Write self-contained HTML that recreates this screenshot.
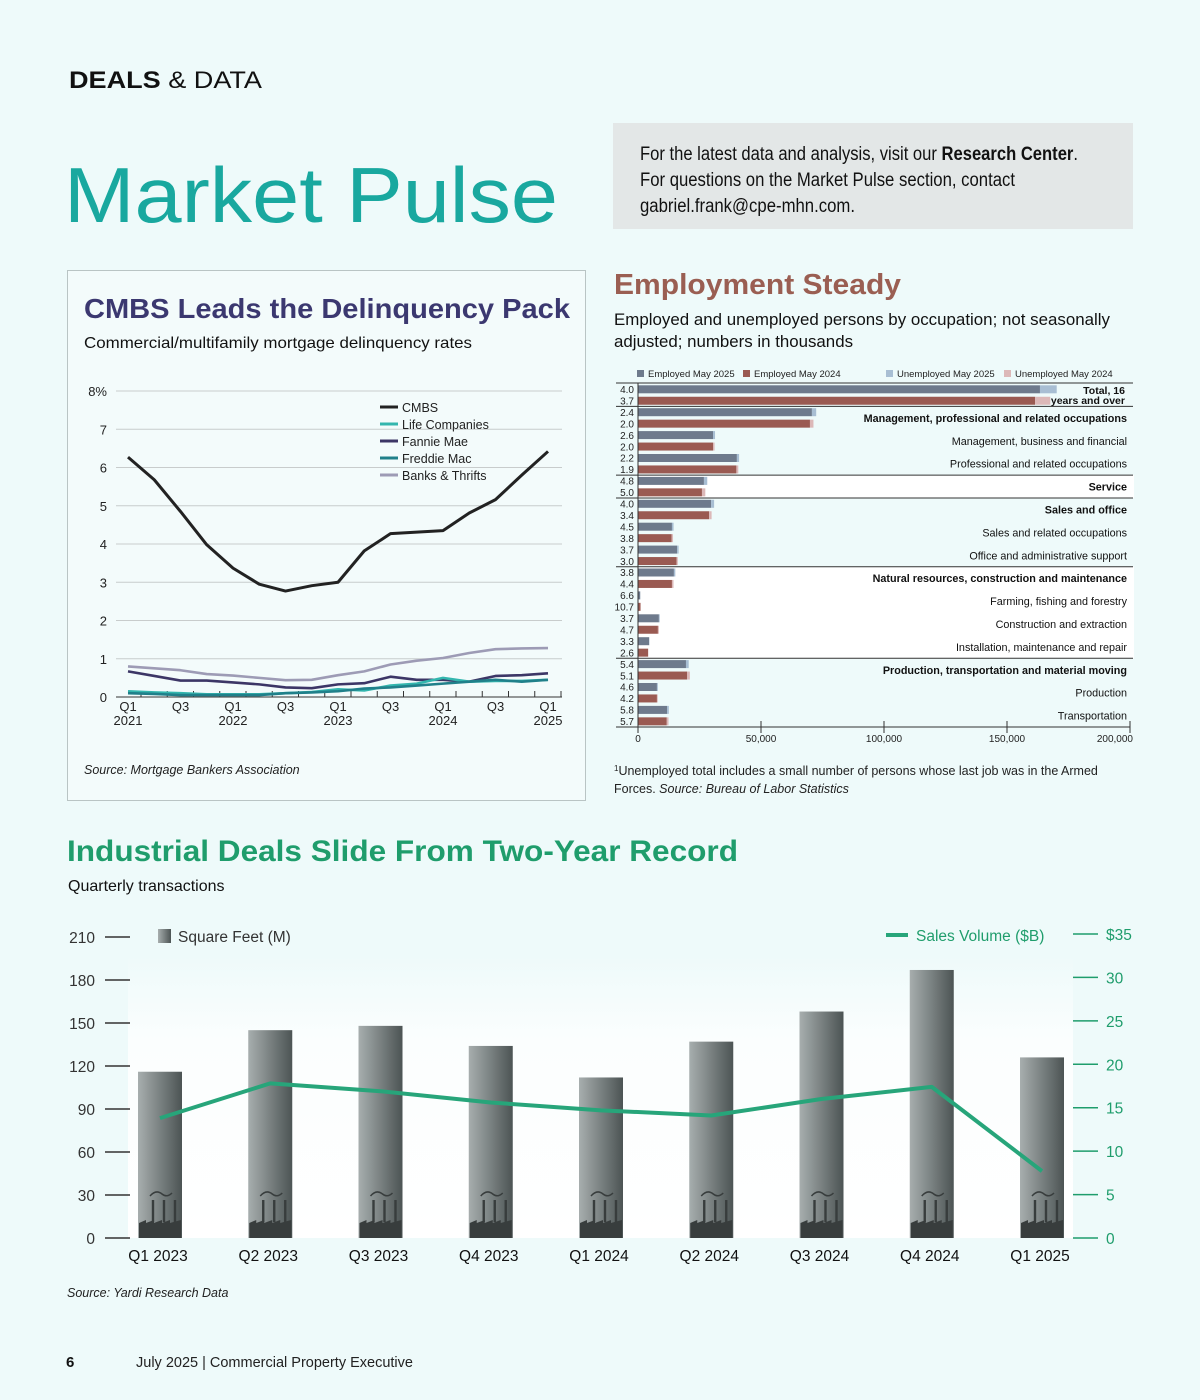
<!DOCTYPE html>
<html><head><meta charset="utf-8"><style>
body{margin:0;background:#eefafa;}
svg{display:block;font-family:"Liberation Sans",sans-serif;}
</style></head><body>
<svg id="pg" width="1200" height="1400" viewBox="0 0 1200 1400">
<defs>
<linearGradient id="barg" x1="0" x2="1" y1="0" y2="0"><stop offset="0" stop-color="#a7aeae"/><stop offset="1" stop-color="#4c5454"/></linearGradient>
<linearGradient id="plotbg" x1="0" x2="0" y1="0" y2="1"><stop offset="0" stop-color="#eefafa"/><stop offset="0.3" stop-color="#fbfefe"/><stop offset="1" stop-color="#ffffff"/></linearGradient>
</defs>
<rect width="1200" height="1400" fill="#eefafa"/>
<text x="69" y="88" font-size="24" fill="#111" textLength="193" lengthAdjust="spacingAndGlyphs"><tspan font-weight="bold">DEALS</tspan> &amp; DATA</text>
<text x="64" y="222" font-size="78" fill="#19a89f" textLength="494" lengthAdjust="spacingAndGlyphs">Market Pulse</text>
<rect x="613" y="123" width="520" height="106" fill="#e3e7e7"/>
<g font-size="19" fill="#111">
<text x="640" y="160" textLength="438" lengthAdjust="spacingAndGlyphs">For the latest data and analysis, visit our <tspan font-weight="bold">Research Center</tspan>.</text>
<text x="640" y="186" textLength="375" lengthAdjust="spacingAndGlyphs">For questions on the Market Pulse section, contact</text>
<text x="640" y="212" textLength="215" lengthAdjust="spacingAndGlyphs">gabriel.frank@cpe-mhn.com.</text>
</g>

<!-- CMBS panel -->
<rect x="67.5" y="270.5" width="518" height="530" fill="#f3fbfb" stroke="#b9c4c4"/>
<text x="84" y="318" font-size="28" font-weight="bold" fill="#3b3870" textLength="486" lengthAdjust="spacingAndGlyphs">CMBS Leads the Delinquency Pack</text>
<text x="84" y="348" font-size="16" fill="#111" textLength="388" lengthAdjust="spacingAndGlyphs">Commercial/multifamily mortgage delinquency rates</text>
<g id="cmbs"></g>
<text x="84" y="774" font-size="12.5" font-style="italic" fill="#222">Source: Mortgage Bankers Association</text>

<!-- Employment -->
<text x="614" y="294" font-size="29" font-weight="bold" fill="#9a5e52" textLength="287" lengthAdjust="spacingAndGlyphs">Employment Steady</text>
<text x="614" y="325" font-size="16.5" fill="#111" textLength="496" lengthAdjust="spacingAndGlyphs">Employed and unemployed persons by occupation; not seasonally</text>
<text x="614" y="347" font-size="16.5" fill="#111" textLength="239" lengthAdjust="spacingAndGlyphs">adjusted; numbers in thousands</text>
<g id="emp"></g>
<text x="614" y="775" font-size="12.5" fill="#222"><tspan font-size="8" dy="-4">1</tspan><tspan dy="4">Unemployed total includes a small number of persons whose last job was in the Armed</tspan></text>
<text x="614" y="793" font-size="12.5" fill="#222">Forces. <tspan font-style="italic">Source: Bureau of Labor Statistics</tspan></text>

<!-- Industrial -->
<text x="67" y="861" font-size="30" font-weight="bold" fill="#1f9d6c" textLength="671" lengthAdjust="spacingAndGlyphs">Industrial Deals Slide From Two-Year Record</text>
<text x="68" y="891" font-size="16" fill="#111">Quarterly transactions</text>
<rect x="128" y="955" width="945" height="283" fill="url(#plotbg)"/>
<g id="ind"></g>
<text x="67" y="1297" font-size="12.5" font-style="italic" fill="#222">Source: Yardi Research Data</text>

<text x="66" y="1367" font-size="15" font-weight="bold" fill="#111">6</text>
<text x="136" y="1367" font-size="14.5" fill="#222">July 2025  |  Commercial Property Executive</text>
</svg>
<script>
const NS='http://www.w3.org/2000/svg';
function mk(p,t,a,txt){const e=document.createElementNS(NS,t);for(const k in a)e.setAttribute(k,a[k]);if(txt!==undefined)e.textContent=txt;p.appendChild(e);return e;}

// ===== CMBS data =====
const cmbsTicks=[0,1,2,3,4,5,6,7,8];
const cmbsXLabels=[['Q1','2021'],['Q3',''],['Q1','2022'],['Q3',''],['Q1','2023'],['Q3',''],['Q1','2024'],['Q3',''],['Q1','2025']];
const cmbsSeriesNames=['Banks & Thrifts','Fannie Mae','Life Companies','Freddie Mac','CMBS'];
const cmbsVals=[6.27,5.68,4.85,3.98,3.37,2.95,2.77,2.91,3.0,3.82,4.27,4.31,4.35,4.81,5.16,5.8,6.42];
const banksVals=[0.8,0.75,0.7,0.6,0.56,0.5,0.44,0.45,0.57,0.67,0.85,0.95,1.02,1.15,1.25,1.27,1.28];
const fannieVals=[0.67,0.55,0.43,0.43,0.38,0.33,0.25,0.23,0.33,0.36,0.53,0.45,0.45,0.4,0.55,0.57,0.62];
const lifeVals=[0.15,0.12,0.1,0.07,0.07,0.07,0.1,0.13,0.2,0.17,0.3,0.35,0.5,0.4,0.42,0.42,0.45];
const freddieVals=[0.1,0.08,0.05,0.05,0.05,0.05,0.1,0.12,0.15,0.22,0.25,0.3,0.35,0.4,0.45,0.4,0.45];
(function(){
 const g=document.getElementById('cmbs');
 const y=v=>697-v*38.25, x=i=>128+i*26.25;
 cmbsTicks.forEach(t=>{
  if(t>0){const l=mk(g,'line',{x1:116,x2:562,y1:y(t),y2:y(t),stroke:'#c8cccc','stroke-width':1});
  }
  const tx=mk(g,'text',{x:107,y:y(t)+5,'font-size':13,'text-anchor':'end',fill:'#222'},t===8?'8%':String(t));
  
 });
 const ax=mk(g,'line',{x1:116,x2:562,y1:y(0),y2:y(0),stroke:'#333','stroke-width':1});
 
 for(let i=0;i<17;i++){const tk=mk(g,'line',{x1:x(i)+13,x2:x(i)+13,y1:y(0)-6,y2:y(0),stroke:'#333'});
  }
 cmbsXLabels.forEach((lb,k)=>{
  const t=mk(g,'text',{x:x(k*2),y:711,'font-size':13,'text-anchor':'middle',fill:'#222'},lb[0]);
  
  if(lb[1]){const t2=mk(g,'text',{x:x(k*2),y:725,'font-size':13,'text-anchor':'middle',fill:'#222'},lb[1]);
  }
 });
 const series=[[banksVals,'#9d9bb5'],[fannieVals,'#3c3666'],[lifeVals,'#33b6ae'],[freddieVals,'#20808a'],[cmbsVals,'#222']];
 series.forEach((s,k)=>{
  const p=mk(g,'polyline',{points:s[0].map((v,i)=>x(i)+','+y(v)).join(' '),fill:'none',stroke:s[1],'stroke-width':k===4?3:2.6,'stroke-linejoin':'round'});
  
  
 });
 const leg=[['CMBS','#222'],['Life Companies','#33b6ae'],['Fannie Mae','#3c3666'],['Freddie Mac','#20808a'],['Banks & Thrifts','#9d9bb5']];
 leg.forEach((l,i)=>{
  const ln=mk(g,'line',{x1:380,x2:398,y1:407+i*17,y2:407+i*17,stroke:l[1],'stroke-width':3});
  
  const t=mk(g,'text',{x:402,y:412+i*17,'font-size':12.5,fill:'#222'},l[0]);
  
 });
})();

// ===== Employment data =====
const empLabels=['Total, 16 years and over','Management, professional and related occupations','Management, business and financial','Professional and related occupations','Service','Sales and office','Sales and related occupations','Office and administrative support','Natural resources, construction and maintenance','Farming, fishing and forestry','Construction and extraction','Installation, maintenance and repair','Production, transportation and material moving','Production','Transportation'];
const empBold=[1,1,0,0,1,1,0,0,1,0,0,0,1,0,0];
const emp2025=[163400,70700,30500,40200,26800,29700,13800,15900,14600,900,8500,4500,19500,7700,11800];
const emp2024=[161400,69900,30500,40000,26000,28900,13700,15700,13800,1000,8100,4100,20000,7700,11700];
const rate2025=[4.0,2.4,2.6,2.2,4.8,4.0,4.5,3.7,3.8,6.6,3.7,3.3,5.4,4.6,5.8];
const rate2024=[3.7,2.0,2.0,1.9,5.0,3.4,3.8,3.0,4.4,10.7,4.7,2.6,5.1,4.2,5.7];
const empTicks=[0,50000,100000,150000,200000];
(function(){
 const g=document.getElementById('emp');
 const x=v=>638+v*492/200000, rowY=r=>383.5+r*11.45;
 const lg=[['Employed May 2025','#6e7a8c',637],['Employed May 2024','#9a5a52',743],['Unemployed May 2025','#a8bed3',886],['Unemployed May 2024','#dcb8b8',1004]];
 lg.forEach(l=>{const r=mk(g,'rect',{x:l[2],y:370,width:7,height:7,fill:l[1]});
  const t=mk(g,'text',{x:l[2]+11,y:377,'font-size':9.5,fill:'#222'},l[0]);});
 [[4,1],[8,4]].forEach(b=>{const r=mk(g,'rect',{x:638,y:rowY(b[0]*2),width:496,height:b[1]*2*11.45,fill:'#fff'});});
 const tl=mk(g,'line',{x1:616,x2:1133,y1:383,y2:383,stroke:'#333'});
 [1,4,5,8,12].forEach(i=>{const l=mk(g,'line',{x1:616,x2:1133,y1:rowY(i*2),y2:rowY(i*2),stroke:'#333'});});
 empLabels.forEach((lab,i)=>{
  [[emp2025,rate2025,'#6e7a8c','#a8bed3'],[emp2024,rate2024,'#9a5a52','#dcb8b8']].forEach((s,k)=>{
   const ry=rowY(i*2+k), e=s[0][i], r=s[1][i], u=e*r/(100-r);
   const b=mk(g,'rect',{x:x(0),y:ry+1.8,width:x(e)-x(0),height:8,fill:s[2]});
   
   const ub=mk(g,'rect',{x:x(e),y:ry+1.8,width:x(e+u)-x(e),height:8,fill:s[3]});
   
   const t=mk(g,'text',{x:634,y:ry+9.5,'font-size':10,'text-anchor':'end',fill:'#222'},r.toFixed(1));
   
  });
  if(i===0){
   [['Total, 16',394],['years and over',404]].forEach(a=>{const t=mk(g,'text',{x:1125,y:a[1],'font-size':10.5,'font-weight':'bold','text-anchor':'end',fill:'#111'},a[0]);});
  } else {
   const t=mk(g,'text',{x:1127,y:rowY(i*2)+15.5,'font-size':10.8,'font-weight':empBold[i]?'bold':'normal','text-anchor':'end',fill:'#111'},lab);
   
  }
 });
 const ax=mk(g,'line',{x1:616,x2:x(200000),y1:727,y2:727,stroke:'#333'});
 const vax=mk(g,'line',{x1:638,x2:638,y1:383,y2:727,stroke:'#333'});
 empTicks.forEach((t,i)=>{
  const tk=mk(g,'line',{x1:x(t),x2:x(t),y1:721,y2:733,stroke:'#333'});
  const tx=mk(g,'text',{x:i===4?1133:x(t),y:742,'font-size':10,'text-anchor':i===4?'end':'middle',fill:'#222'},t.toLocaleString('en-US'));
  
 });
})();

// ===== Industrial data =====
const indCats=['Q1 2023','Q2 2023','Q3 2023','Q4 2023','Q1 2024','Q2 2024','Q3 2024','Q4 2024','Q1 2025'];
const sqft=[116,145,148,134,112,137,158,187,126];
const salesVol=[13.8,17.8,16.9,15.6,14.7,14.1,16.0,17.4,7.7];
const leftTicks=[0,30,60,90,120,150,180,210];
const rightTicks=[0,5,10,15,20,25,30,35];
(function(){
 const g=document.getElementById('ind');
 const yl=v=>1238-v*301/210, yr=v=>1238-v*304/35, x=i=>160+i*110.25;
 leftTicks.forEach(t=>{
  const l=mk(g,'line',{x1:105,x2:130,y1:yl(t),y2:yl(t),stroke:'#333','stroke-width':1.5});
  const tx=mk(g,'text',{x:95,y:yl(t)+6,'font-size':15.5,'text-anchor':'end',fill:'#333'},String(t));
 });
 rightTicks.forEach(t=>{
  const l=mk(g,'line',{x1:1073,x2:1098,y1:yr(t),y2:yr(t),stroke:'#1f9d6c','stroke-width':1.5});
  const tx=mk(g,'text',{x:1106,y:yr(t)+6,'font-size':15.5,fill:'#1f9d6c'},t===35?'$35':String(t));
 });
 sqft.forEach((v,i)=>{
  const b=mk(g,'rect',{x:x(i)-22,y:yl(v),width:44,height:yl(0)-yl(v),fill:'url(#barg)'});
  
  const cx=x(i)-22, by=yl(0);
  const f=mk(g,'path',{d:`M${cx+1} ${by} V${by-15} L${cx+8} ${by-18} V${by-15} L${cx+16} ${by-18} V${by-15} L${cx+24} ${by-18} V${by-15} L${cx+32} ${by-18} V${by-15} L${cx+43} ${by-18} V${by} Z`,fill:'#383d3d'});
  
  [cx+15,cx+26,cx+37].forEach(c=>{const ch=mk(g,'rect',{x:c-1.2,y:by-38,width:2.4,height:22,fill:'#383d3d'});
   });
  const sm=mk(g,'path',{d:`M${cx+12} ${by-42} q6 -7 12 -2 q5 4 10 -1`,fill:'none',stroke:'#383d3d','stroke-width':1.5});
  
  const t=mk(g,'text',{x:x(i)-2,y:1261,'font-size':15.5,'text-anchor':'middle',fill:'#111'},indCats[i]);
  
 });
 const ln=mk(g,'polyline',{points:salesVol.map((v,i)=>x(i)+','+yr(v)).join(' '),fill:'none',stroke:'#27a57a','stroke-width':4,'stroke-linejoin':'round'});
 
 const sw=mk(g,'rect',{x:158,y:929,width:13,height:14,fill:'url(#barg)'});
 const lt=mk(g,'text',{x:178,y:942,'font-size':15.5,fill:'#333'},'Square Feet (M)');
 const ls=mk(g,'line',{x1:886,x2:908,y1:935,y2:935,stroke:'#27a57a','stroke-width':4});
 const lt2=mk(g,'text',{x:916,y:941,'font-size':15.5,fill:'#1f9d6c'},'Sales Volume ($B)');
})();
</script>
</body></html>
